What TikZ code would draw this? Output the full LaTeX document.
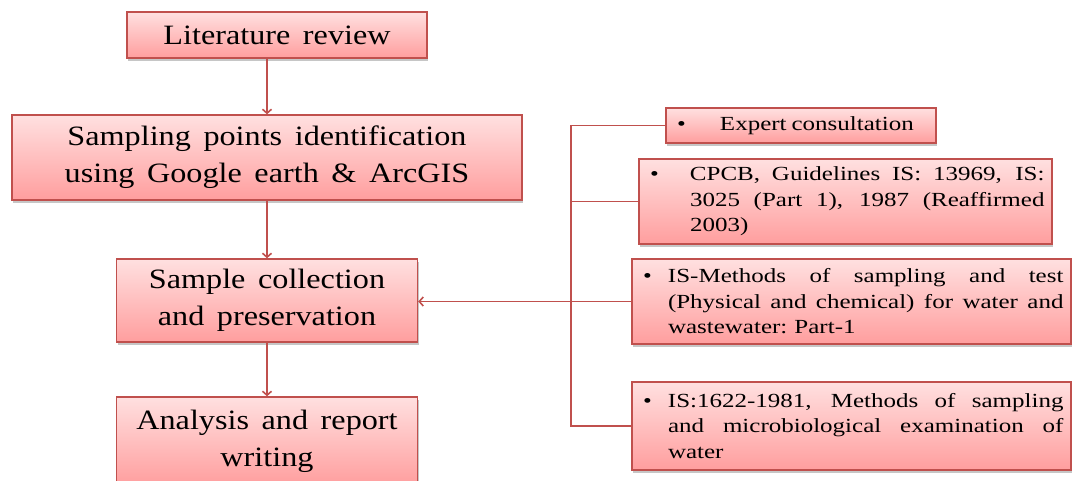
\documentclass[tikz,border=0pt]{standalone}
\usepackage{fontspec}
\setmainfont[FakeStretch=1.15]{Liberation Serif}
\newfontfamily\srcfont[FakeStretch=1.25]{Liberation Serif}
\usepackage{xcolor}
\usetikzlibrary{arrows.meta,shadows}

\definecolor{boxline}{RGB}{192,80,77}
\definecolor{boxtop}{RGB}{255,224,224}
\definecolor{boxbot}{RGB}{255,158,158}
\newcommand\bigtext{\fontsize{28}{37}\selectfont\spaceskip=0.45em plus 0.1em minus 0.05em}
\newcommand\smalltext{\srcfont\fontsize{20}{25.5}\selectfont\spaceskip=0.25em plus 1em minus 0.05em}
\newcommand\bul[2]{\noindent\hangindent=#1\hangafter=1\hbox to #1{\hskip3.5pt\textbullet\hfil}\ignorespaces#2\par}

\begin{document}
\begin{tikzpicture}[x=1pt, y=-1pt, >={Straight Barb[length=4pt,width=9pt]}]

	\tikzstyle{stage}=[draw=boxline, line width=1.4pt, top color=boxtop, bottom color=boxbot,
		drop shadow={shadow xshift=1pt, shadow yshift=-2.5pt, fill=black!50, opacity=.45},
		align=center, font=\bigtext, inner sep=2pt]
	\tikzstyle{source}=[stage, align=justify, font=\smalltext, inner xsep=7.5pt, inner ysep=2pt]
	\tikzstyle{link}=[draw=boxline, line width=1.6pt]

	\clip (0,0) rectangle (1072,480);

	% main steps
	\node[stage, minimum width=300pt, minimum height=46pt] (lit) at (277,35) {Literature review};
	\node[stage, minimum width=510pt, minimum height=85pt] (samp) at (267,157.5) {Sampling points identification\\using Google earth \& ArcGIS};
	\node[stage, minimum width=301pt, minimum height=83pt] (coll) at (267,300.5) {Sample collection\\and preservation};
	\node[stage, minimum width=301pt, minimum height=88pt] (anal) at (267,441) {Analysis and report\\writing};

	% sources
	\node[source, text width=255pt, minimum height=35pt] (expert) at (801,125.5) {\bul{46.5pt}{Expert consultation}};
	\node[source, text width=398pt, minimum height=85pt] (cpcb) at (845.5,201.5) {\bul{43.5pt}{CPCB, Guidelines IS: 13969, IS:\linebreak 3025 (Part 1), 1987 (Reaffirmed\linebreak 2003)}};
	\node[source, text width=424pt, minimum height=85pt] (ismeth) at (851.5,301.5) {\bul{28.5pt}{IS-Methods of sampling and test\linebreak (Physical and chemical) for water and\linebreak wastewater: Part-1}};
	\node[source, text width=424pt, minimum height=88pt] (iscode) at (851.5,426) {\bul{28.5pt}{IS:1622-1981, Methods of sampling\linebreak and microbiological examination of\linebreak water}};

	% down the steps
	\draw[link,->] (lit.south -| samp.north) -- (samp.north);
	\draw[link,->] (samp) -- (coll);
	\draw[link,->] (coll) -- (anal);

	% bracket of sources
	\coordinate (bus) at (571,300);
	\draw[link] (expert.west) -| (bus) |- (iscode.west);
	\draw[link] (cpcb.west) -- (cpcb.west -| bus);
	\draw[link,->] (ismeth.west) -- (ismeth.west -| coll.east);

\end{tikzpicture}
\end{document}
